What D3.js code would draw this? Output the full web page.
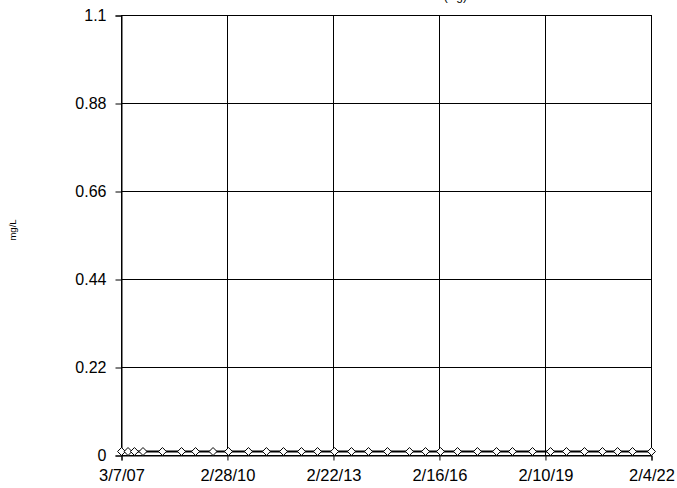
<!DOCTYPE html>
<html>
<head>
<meta charset="utf-8">
<script src="https://cdn.jsdelivr.net/npm/d3@7/dist/d3.min.js"></script>
<style>
  html, body { margin: 0; padding: 0; background: #fff; }
  svg { display: block; font-family: Arial, "Liberation Sans", sans-serif; }
</style>
</head>
<body>
<svg id="chart" width="677" height="488"></svg>
<script>
const title = "MERCURY (Hg)";
const yTitle = "mg/L";
const sampleDates = [
  "2007-03-07","2007-05-13","2007-07-18","2007-10-14","2008-05-01","2008-11-13",
  "2009-04-06","2009-10-03","2010-03-11","2010-10-02","2011-04-05","2011-09-27",
  "2012-03-30","2012-09-11","2013-03-05","2013-08-26","2014-02-17","2014-08-31",
  "2015-04-14","2015-09-26","2016-02-27","2016-08-20","2017-03-13","2017-09-25",
  "2018-03-08","2018-09-30","2019-04-03","2019-09-14","2020-03-17","2020-09-18",
  "2021-02-20","2021-07-24","2022-02-04"
];
const sampleValues = [
  0.01,0.01,0.01,0.01,0.01,0.01,
  0.01,0.01,0.01,0.01,0.01,0.01,
  0.01,0.01,0.01,0.01,0.01,0.01,
  0.01,0.01,0.01,0.01,0.01,0.01,
  0.01,0.01,0.01,0.01,0.01,0.01,
  0.01,0.01,0.01
];
const xTickDates = ["2007-03-07","2010-02-28","2013-02-22","2016-02-16","2019-02-10","2022-02-04"];
const xTickLabels = ["3/7/07","2/28/10","2/22/13","2/16/16","2/10/19","2/4/22"];
const yTicks = [0, 0.22, 0.44, 0.66, 0.88, 1.1];
const yTickLabels = ["0","0.22","0.44","0.66","0.88","1.1"];

const parse = d3.utcParse("%Y-%m-%d");
const data = sampleDates.map((d, i) => ({ date: parse(d), value: sampleValues[i] }));
const xTicks = xTickDates.map(parse);

const pL = 121.5, pR = 651.5, pT = 15.5, pB = 455.5;
const svg = d3.select("#chart");

const x = d3.scaleUtc().domain([xTicks[0], xTicks[xTicks.length - 1]]).range([pL, pR]);
const y = d3.scaleLinear().domain([0, 1.1]).range([pB, pT]);

const snap = v => Math.round(v - 0.5) + 0.5;

// gridlines
const g = svg.append("g");
g.selectAll("line.hg").data(yTicks).join("line")
  .attr("x1", pL).attr("x2", pR)
  .attr("y1", d => snap(y(d))).attr("y2", d => snap(y(d)))
  .attr("stroke", "#000").attr("stroke-width", 1);
g.selectAll("line.vg").data(xTicks).join("line")
  .attr("y1", pT).attr("y2", pB)
  .attr("x1", d => snap(x(d))).attr("x2", d => snap(x(d)))
  .attr("stroke", "#000").attr("stroke-width", 1);

// axes
const yAxis = d3.axisLeft(y).tickValues(yTicks).tickSize(6).tickPadding(9)
  .tickFormat((d, i) => yTickLabels[i]);
const ya = svg.append("g").attr("transform", `translate(${pL},0)`).call(yAxis);
ya.select(".domain").attr("stroke", "#000");
ya.selectAll(".tick line").attr("stroke", "#000");
ya.selectAll("text").attr("font-size", "16px").attr("fill", "#000")
  .attr("font-family", "Arial, 'Liberation Sans', sans-serif");

const xAxis = d3.axisBottom(x).tickValues(xTicks).tickSize(5).tickPadding(9)
  .tickFormat((d, i) => xTickLabels[i]);
const xa = svg.append("g").attr("transform", `translate(0,${pB})`).call(xAxis);
xa.select(".domain").attr("stroke", "#000");
xa.selectAll(".tick line").attr("stroke", "#000");
xa.selectAll("text").attr("font-size", "16.5px").attr("fill", "#000")
  .attr("font-family", "Arial, 'Liberation Sans', sans-serif");

// plot border
svg.append("rect").attr("x", pL).attr("y", pT).attr("width", pR - pL).attr("height", pB - pT)
  .attr("fill", "none").attr("stroke", "#000").attr("stroke-width", 1);

// series line
const line = d3.line().x(d => x(d.date)).y(d => y(d.value));
svg.append("path").datum(data).attr("d", line)
  .attr("fill", "none").attr("stroke", "#000").attr("stroke-width", 2);

// diamond markers
const sym = d3.symbol().type(d3.symbolDiamond2).size(40);
svg.selectAll("path.pt").data(data).join("path")
  .attr("class", "pt")
  .attr("transform", d => `translate(${x(d.date)},${y(d.value)})`)
  .attr("d", sym)
  .attr("fill", "#fff").attr("stroke", "#000").attr("stroke-width", 1);

// titles (title sits mostly above the top edge, as in the reference)
svg.append("text").attr("x", 467).attr("y", -0.5).attr("text-anchor", "end")
  .attr("font-size", "12px").attr("fill", "#000").text(title);
svg.append("text").attr("transform", "translate(16,230) rotate(-90)").attr("text-anchor", "middle")
  .attr("font-size", "9.5px").attr("fill", "#000").text(yTitle);
</script>
</body>
</html>
